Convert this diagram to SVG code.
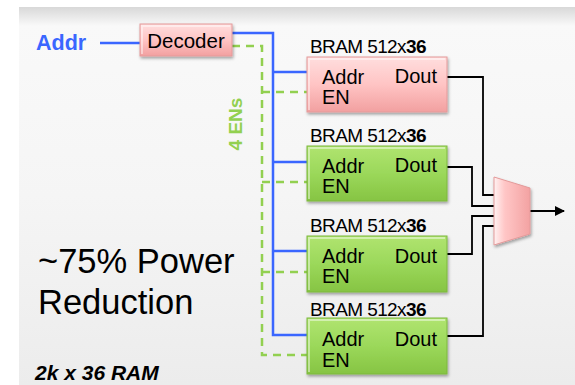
<svg xmlns="http://www.w3.org/2000/svg" width="575" height="385" viewBox="0 0 575 385">
<defs>
<linearGradient id="bg" x1="0" y1="0" x2="0" y2="1">
<stop offset="0" stop-color="#d8d8d8"/>
<stop offset="0.05" stop-color="#f9f9f9"/>
<stop offset="0.5" stop-color="#f5f5f5"/>
<stop offset="1" stop-color="#ececec"/>
</linearGradient>
<linearGradient id="pink" x1="0" y1="0" x2="0" y2="1">
<stop offset="0" stop-color="#ffdede"/>
<stop offset="0.5" stop-color="#ffc4c4"/>
<stop offset="1" stop-color="#f2a0a0"/>
</linearGradient>
<linearGradient id="green" x1="0" y1="0" x2="0" y2="1">
<stop offset="0" stop-color="#b0e470"/>
<stop offset="0.5" stop-color="#9bd85a"/>
<stop offset="1" stop-color="#86c443"/>
</linearGradient>
<linearGradient id="mux" x1="0" y1="0" x2="1" y2="0">
<stop offset="0" stop-color="#fff2f2"/>
<stop offset="0.3" stop-color="#ffc6c6"/>
<stop offset="1" stop-color="#f3a2a2"/>
</linearGradient>
<filter id="sh" x="-10%" y="-10%" width="130%" height="140%">
<feDropShadow dx="1" dy="2" stdDeviation="1.5" flood-color="#000" flood-opacity="0.35"/>
</filter>
<marker id="arr" markerWidth="10" markerHeight="10" refX="9" refY="5" orient="auto" markerUnits="userSpaceOnUse">
<path d="M0,0 L10,5 L0,10 Z" fill="#000"/>
</marker>
</defs>
<style>
.t{font-family:"Liberation Sans",Arial,sans-serif;fill:#000}
.lbl{font-size:19px;letter-spacing:-0.6px}
.in{font-size:20px}
.blue{fill:none;stroke:#3a66ff;stroke-width:2.5}
.en{fill:none;stroke:#92d050;stroke-width:2.5;stroke-dasharray:8,6}
.out{fill:none;stroke:#000;stroke-width:1.8}
.pinkbox{fill:url(#pink);stroke:#e49a9a;stroke-width:1}
.greenbox{fill:url(#green);stroke:#7cb83e;stroke-width:1}
.hl{fill:none;stroke:#ffffff;stroke-opacity:0.45;stroke-width:2}
</style>
<rect x="19" y="7" width="556" height="378" fill="url(#bg)"/>

<g id="connectors">
<line class="blue" x1="100" y1="43" x2="140" y2="43"/>
<polyline class="blue" points="232,33 273,33 273,335 307,335"/>
<line class="blue" x1="273" y1="72" x2="307" y2="72"/>
<line class="blue" x1="273" y1="162" x2="307" y2="162"/>
<line class="blue" x1="273" y1="251" x2="307" y2="251"/>
<polyline class="en" points="232,46 262,46 262,355 307,355"/>
<line class="en" x1="262" y1="92" x2="307" y2="92"/>
<line class="en" x1="262" y1="182" x2="307" y2="182"/>
<line class="en" x1="262" y1="272" x2="307" y2="272"/>
<polyline class="out" points="447,77 483,77 483,195 495,195"/>
<polyline class="out" points="447,167 472,167 472,206 495,206"/>
<polyline class="out" points="447,254 472,254 472,216 495,216"/>
<polyline class="out" points="447,336 483,336 483,226 495,226"/>
<line class="out" x1="530" y1="211" x2="564" y2="211" marker-end="url(#arr)"/>
</g>

<g id="addr">
<text x="36" y="50" font-family="Liberation Sans, Arial, sans-serif" font-size="21.5" font-weight="bold" fill="#3a66ff">Addr</text>
</g>

<g id="decoder">
<rect x="140" y="24" width="92" height="32" class="pinkbox" filter="url(#sh)"/>
<polyline class="hl" points="142,54 142,26 230,26"/>
<text class="t" x="186" y="48" font-size="20.5" text-anchor="middle">Decoder</text>
</g>

<g id="ens-label">
<text x="0" y="0" transform="translate(242,124) rotate(-90)" font-family="Liberation Sans, Arial, sans-serif" font-size="19" font-weight="bold" fill="#92d050" text-anchor="middle">4 ENs</text>
</g>

<g id="bram1">
<text class="t lbl" x="310" y="53">BRAM 512x<tspan font-weight="bold">36</tspan></text>
<rect x="307" y="57" width="140" height="55" class="pinkbox" filter="url(#sh)"/>
<polyline class="hl" points="309,110 309,59 445,59"/>
<text class="t in" x="322" y="84">Addr</text>
<text class="t in" x="322" y="104">EN</text>
<text class="t in" x="437" y="83" text-anchor="end">Dout</text>
</g>

<g id="bram2">
<text class="t lbl" x="310" y="142">BRAM 512x<tspan font-weight="bold">36</tspan></text>
<rect x="307" y="146" width="140" height="55" class="greenbox" filter="url(#sh)"/>
<polyline class="hl" points="309,199 309,148 445,148"/>
<text class="t in" x="322" y="173">Addr</text>
<text class="t in" x="322" y="193">EN</text>
<text class="t in" x="437" y="172" text-anchor="end">Dout</text>
</g>

<g id="bram3">
<text class="t lbl" x="310" y="232">BRAM 512x<tspan font-weight="bold">36</tspan></text>
<rect x="307" y="236" width="140" height="56" class="greenbox" filter="url(#sh)"/>
<polyline class="hl" points="309,290 309,238 445,238"/>
<text class="t in" x="322" y="263">Addr</text>
<text class="t in" x="322" y="283">EN</text>
<text class="t in" x="437" y="263" text-anchor="end">Dout</text>
</g>

<g id="bram4">
<text class="t lbl" x="310" y="316">BRAM 512x<tspan font-weight="bold">36</tspan></text>
<rect x="307" y="318" width="140" height="56" class="greenbox" filter="url(#sh)"/>
<polyline class="hl" points="309,372 309,320 445,320"/>
<text class="t in" x="322" y="346">Addr</text>
<text class="t in" x="322" y="367">EN</text>
<text class="t in" x="437" y="346" text-anchor="end">Dout</text>
</g>

<g id="mux">
<polygon points="494,177 530,188 530,234 494,245" fill="url(#mux)" stroke="#e49a9a" stroke-width="1" filter="url(#sh)"/>
</g>

<g id="power-text">
<text class="t" x="38" y="273" font-size="34.5">~75% Power</text>
<text class="t" x="38" y="314" font-size="34.5">Reduction</text>
</g>

<g id="ram-label">
<text class="t" x="35" y="380" font-size="21" font-weight="bold" font-style="italic">2k x 36 RAM</text>
</g>
</svg>
